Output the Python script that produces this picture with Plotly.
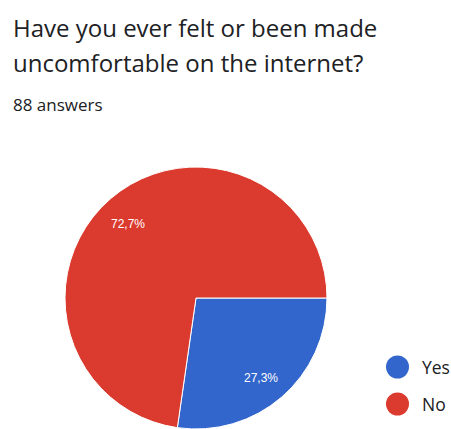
import math
import plotly.graph_objects as go

# Survey answers
categories = ["Yes", "No"]
counts = [24, 64]
colors = ["#3366cc", "#db3a2f"]
question_lines = ["Have you ever felt or been made", "uncomfortable on the internet?"]

W, H = 451, 429
total = sum(counts)

# Pie geometry in pixels (pie is anchored to the bottom of the page)
radius = 131
cx, cy = 196, H - radius
font = "Open Sans, Roboto, Arial, sans-serif"

fig = go.Figure()

fig.add_trace(go.Pie(
    labels=categories,
    values=counts,
    marker=dict(colors=colors, line=dict(color="white", width=1)),
    sort=False,
    direction="clockwise",
    rotation=90,
    textinfo="none",
    hoverinfo="skip",
    showlegend=False,
    domain=dict(x=[(cx - radius) / W, (cx + radius) / W], y=[0, 2 * radius / H]),
))

# Percentage labels placed along each slice's mid-angle
annotations = []
start = 90.0
for v in counts:
    sweep = v / total * 360
    mid = math.radians(start + sweep / 2)
    start += sweep
    r = 0.78 * radius
    annotations.append(dict(
        x=cx + r * math.sin(mid) - 1.5, y=cy - r * math.cos(mid) + 3, xref="x", yref="y",
        text=f"{v / total * 100:.1f}".replace(".", ",") + "%",
        showarrow=False, font=dict(family="Liberation Sans, Arial", size=12, color="white"),
    ))

# Title and answer count
for i, line in enumerate(question_lines):
    annotations.append(dict(
        x=11, y=27 + 35 * i, xref="x", yref="y", xanchor="left", yanchor="middle",
        text=line, showarrow=False, font=dict(family=font, size=24, color="#202124"),
    ))
annotations.append(dict(
    x=11, y=104, xref="x", yref="y", xanchor="left", yanchor="middle",
    text=f"{total} answers", showarrow=False, font=dict(family=font, size=17, color="#202124"),
))

# Legend: large round swatches with labels
leg_x, leg_y0, leg_dy = 397.5, 367, 37
fig.add_trace(go.Scatter(
    x=[leg_x] * len(categories),
    y=[leg_y0 + leg_dy * i for i in range(len(categories))],
    mode="markers",
    marker=dict(size=23, color=colors),
    hoverinfo="skip",
    showlegend=False,
))
for i, c in enumerate(categories):
    annotations.append(dict(
        x=leg_x + 22, y=leg_y0 + leg_dy * i, xref="x", yref="y", xanchor="left", yanchor="middle",
        text=c, showarrow=False, font=dict(family=font, size=17.5, color="#202124"),
    ))

fig.update_layout(
    width=W, height=H,
    margin=dict(l=0, r=0, t=0, b=0),
    paper_bgcolor="white", plot_bgcolor="rgba(0,0,0,0)",
    xaxis=dict(range=[0, W], visible=False, fixedrange=True),
    yaxis=dict(range=[H, 0], visible=False, fixedrange=True),
    annotations=annotations,
)

fig.write_html("out.html")
